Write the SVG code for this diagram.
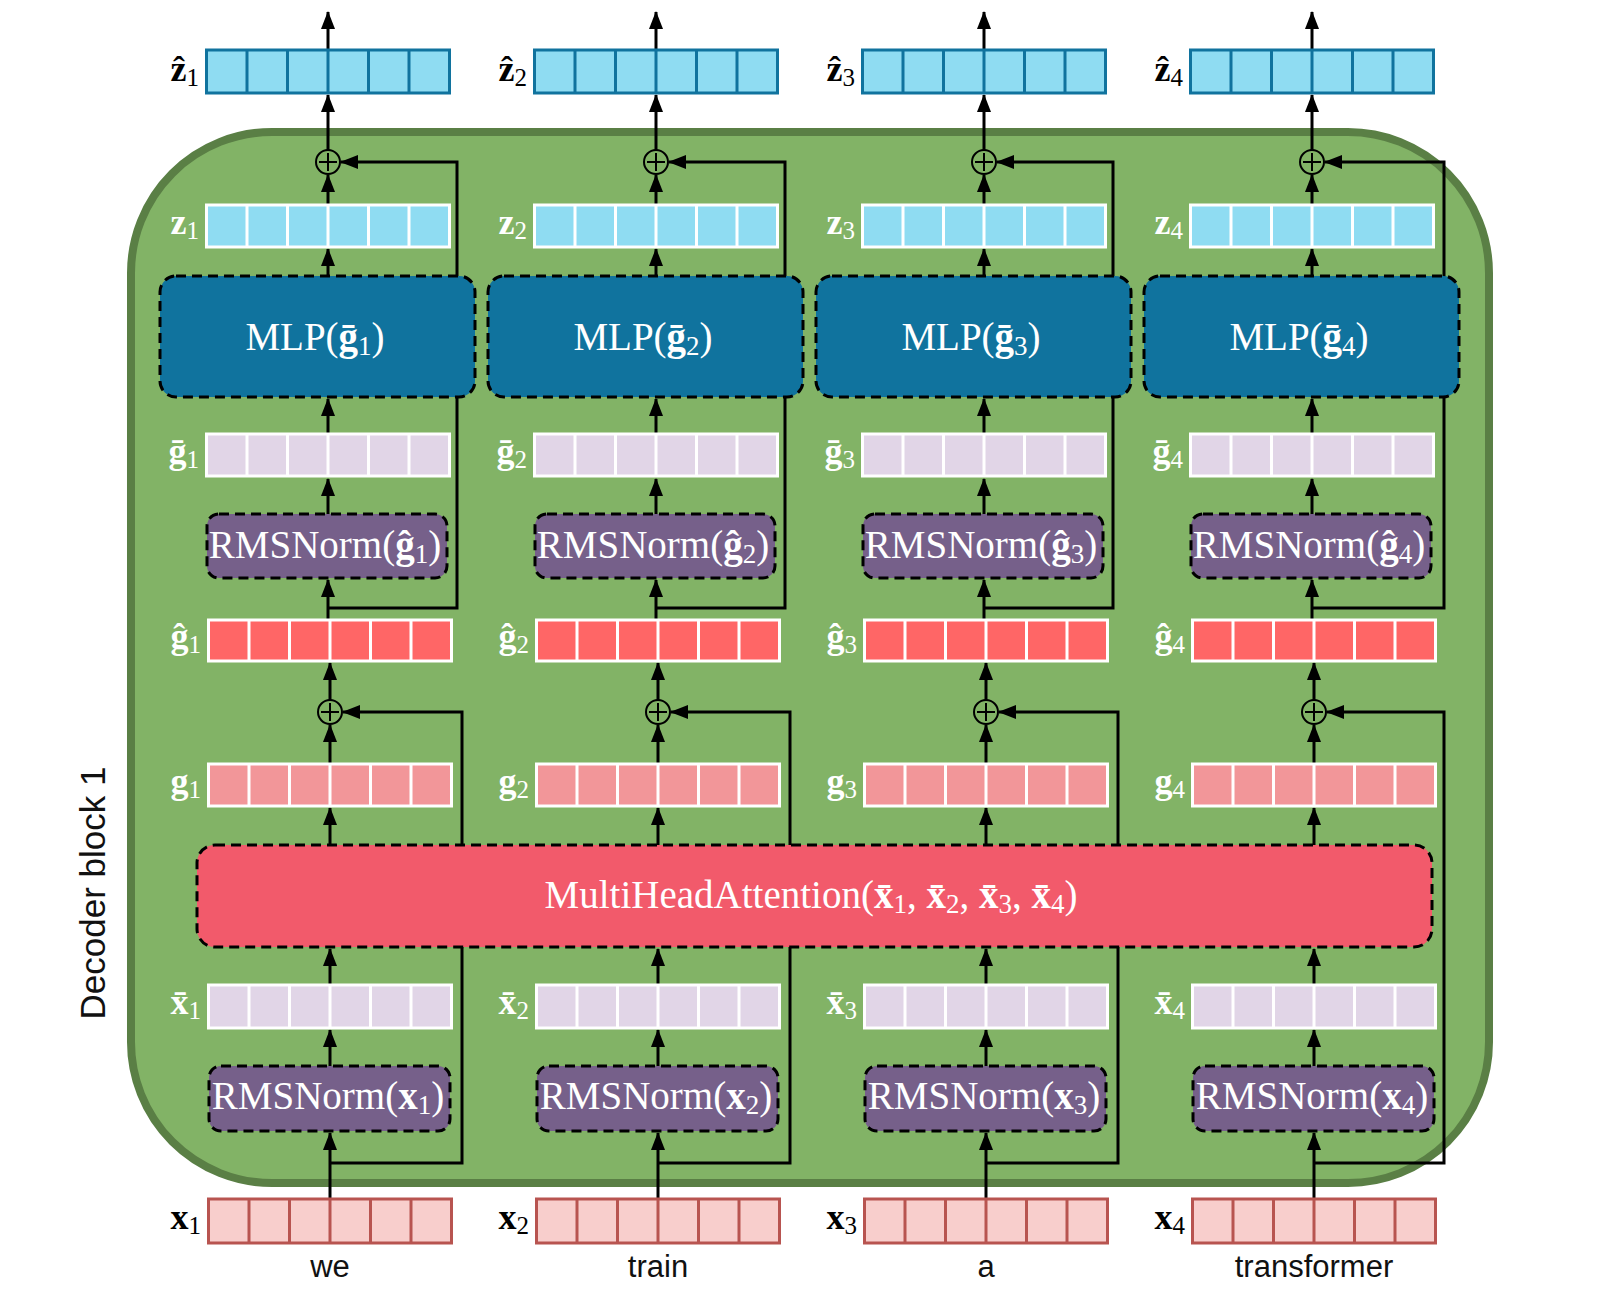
<svg xmlns="http://www.w3.org/2000/svg" width="1604" height="1296" viewBox="0 0 1604 1296">
<style>
.lbl{font-family:"Liberation Serif","DejaVu Serif",serif;font-size:36px}
.b{font-weight:bold}
.sub{font-size:25px}
.bx{font-family:"Liberation Serif","DejaVu Serif",serif;font-size:39px;fill:#fff;text-anchor:middle}
.bsub{font-size:27px}
.word{font-family:"Liberation Sans",Arial,sans-serif;font-size:31px;fill:#111;text-anchor:middle}
.wl{fill:#fff}
.zh{fill:#8FDCF2;stroke:#10739E;stroke-width:3}
.zhd{fill:none;stroke:#10739E;stroke-width:3}
.zb{fill:#8FDCF2;stroke:#fff;stroke-width:3}
.lv{fill:#E1D5E7;stroke:#fff;stroke-width:3}
.gh{fill:#FF6666;stroke:#fff;stroke-width:3}
.gp{fill:#F29699;stroke:#fff;stroke-width:3}
.xb{fill:#F8CECC;stroke:#B85450;stroke-width:3}
.xd{fill:none;stroke:#B85450;stroke-width:3}
.wd{fill:none;stroke:#fff;stroke-width:3}
.mlp{fill:#10739E;stroke:#000;stroke-width:3;stroke-dasharray:10 6}
.rms{fill:#76608A;stroke:#000;stroke-width:3;stroke-dasharray:10 6}
.att{fill:#F25A6B;stroke:#000;stroke-width:3;stroke-dasharray:10 6}
.arr{fill:none;stroke:#000;stroke-width:3;marker-end:url(#ah)}
.add{fill:none;stroke:#000;stroke-width:2}
</style>
<defs>
<marker id="ah" markerUnits="userSpaceOnUse" markerWidth="18" markerHeight="14" refX="17" refY="7" orient="auto">
<path d="M0,0 L18,7 L0,14 z" fill="#000"/>
</marker>
</defs>
<rect width="1604" height="1296" fill="#fff"/>
<g id="decoder-block">
<rect x="131" y="132" width="1358" height="1051" rx="141" fill="#82B366" stroke="#5A7F45" stroke-width="8"/>
<text x="105" y="893" transform="rotate(-90 105 893)" font-family="Liberation Sans,Arial,sans-serif" font-size="35" text-anchor="middle" fill="#111">Decoder block 1</text>
</g>
<g id="connectors">
<g transform="translate(0,0)">
<path class="arr" d="M328,50V12"/><path class="arr" d="M328,150V95"/><path class="arr" d="M328,205V175"/><path class="arr" d="M328,276V249"/><path class="arr" d="M328,434V399"/><path class="arr" d="M328,514V479"/><path class="arr" d="M328,620V580"/><path class="arr" d="M328,608H457V162H341"/>
<path class="arr" d="M330,700V663"/><path class="arr" d="M330,764V725"/><path class="arr" d="M330,845V808"/><path class="arr" d="M330,985V949"/><path class="arr" d="M330,1066V1030"/><path class="arr" d="M330,1199V1133"/><path class="arr" d="M330,1163H462V712H343"/>
</g>
<g transform="translate(328,0)">
<path class="arr" d="M328,50V12"/><path class="arr" d="M328,150V95"/><path class="arr" d="M328,205V175"/><path class="arr" d="M328,276V249"/><path class="arr" d="M328,434V399"/><path class="arr" d="M328,514V479"/><path class="arr" d="M328,620V580"/><path class="arr" d="M328,608H457V162H341"/>
<path class="arr" d="M330,700V663"/><path class="arr" d="M330,764V725"/><path class="arr" d="M330,845V808"/><path class="arr" d="M330,985V949"/><path class="arr" d="M330,1066V1030"/><path class="arr" d="M330,1199V1133"/><path class="arr" d="M330,1163H462V712H343"/>
</g>
<g transform="translate(656,0)">
<path class="arr" d="M328,50V12"/><path class="arr" d="M328,150V95"/><path class="arr" d="M328,205V175"/><path class="arr" d="M328,276V249"/><path class="arr" d="M328,434V399"/><path class="arr" d="M328,514V479"/><path class="arr" d="M328,620V580"/><path class="arr" d="M328,608H457V162H341"/>
<path class="arr" d="M330,700V663"/><path class="arr" d="M330,764V725"/><path class="arr" d="M330,845V808"/><path class="arr" d="M330,985V949"/><path class="arr" d="M330,1066V1030"/><path class="arr" d="M330,1199V1133"/><path class="arr" d="M330,1163H462V712H343"/>
</g>
<g transform="translate(984,0)">
<path class="arr" d="M328,50V12"/><path class="arr" d="M328,150V95"/><path class="arr" d="M328,205V175"/><path class="arr" d="M328,276V249"/><path class="arr" d="M328,434V399"/><path class="arr" d="M328,514V479"/><path class="arr" d="M328,620V580"/><path class="arr" d="M328,608H460V162H341"/>
<path class="arr" d="M330,700V663"/><path class="arr" d="M330,764V725"/><path class="arr" d="M330,845V808"/><path class="arr" d="M330,985V949"/><path class="arr" d="M330,1066V1030"/><path class="arr" d="M330,1199V1133"/><path class="arr" d="M330,1163H460V712H343"/>
</g>
</g>

<g id="attention">
<rect class="att" x="197" y="845" width="1235" height="102" rx="18"/>
<text class="bx" x="811" y="908" font-size="43">MultiHeadAttention(<tspan class="b">x&#x304;</tspan><tspan class="bsub" dy="5">1</tspan><tspan dy="-5">, </tspan><tspan class="b">x&#x304;</tspan><tspan class="bsub" dy="5">2</tspan><tspan dy="-5">, </tspan><tspan class="b">x&#x304;</tspan><tspan class="bsub" dy="5">3</tspan><tspan dy="-5">, </tspan><tspan class="b">x&#x304;</tspan><tspan class="bsub" dy="5">4</tspan><tspan dy="-5">)</tspan></text>
</g>

<!-- Column 1 -->
<g id="zhat-1"><rect class="zh" x="206.5" y="50" width="243" height="43"/><path class="zhd" d="M247,50v43M287.5,50v43M328,50v43M368.5,50v43M409,50v43"/><text class="lbl" x="199" y="81" text-anchor="end"><tspan class="b">ẑ</tspan><tspan class="sub" dy="5">1</tspan></text></g>
<g id="add-top-1"><circle class="add" cx="328" cy="162" r="12"/><path class="add" d="M319,162h18M328,153v18"/></g>
<g id="z-1"><rect class="zb" x="206.5" y="205" width="243" height="42"/><path class="wd" d="M247,205v42M287.5,205v42M328,205v42M368.5,205v42M409,205v42"/><text class="lbl wl" x="199" y="234" text-anchor="end"><tspan class="b">z</tspan><tspan class="sub" dy="5">1</tspan></text></g>
<g id="mlp-1"><rect class="mlp" x="160" y="276" width="315" height="121" rx="16"/><text class="bx" x="315" y="350">MLP(<tspan class="b">ḡ</tspan><tspan class="bsub" dy="5">1</tspan><tspan dy="-5">)</tspan></text></g>
<g id="gbar-1"><rect class="lv" x="206.5" y="434" width="243" height="42"/><path class="wd" d="M247,434v42M287.5,434v42M328,434v42M368.5,434v42M409,434v42"/><text class="lbl wl" x="199" y="463" text-anchor="end"><tspan class="b">ḡ</tspan><tspan class="sub" dy="5">1</tspan></text></g>
<g id="rms-g-1"><rect class="rms" x="207" y="514" width="240" height="64" rx="12"/><text class="bx" x="325" y="558">RMSNorm(<tspan class="b">ĝ</tspan><tspan class="bsub" dy="5">1</tspan><tspan dy="-5">)</tspan></text></g>
<g id="ghat-1"><rect class="gh" x="208.5" y="620" width="243" height="41"/><path class="wd" d="M249,620v41M289.5,620v41M330,620v41M370.5,620v41M411,620v41"/><text class="lbl wl" x="201" y="648" text-anchor="end"><tspan class="b">ĝ</tspan><tspan class="sub" dy="5">1</tspan></text></g>
<g id="add-mid-1"><circle class="add" cx="330" cy="712" r="12"/><path class="add" d="M321,712h18M330,703v18"/></g>
<g id="g-1"><rect class="gp" x="208.5" y="764" width="243" height="42"/><path class="wd" d="M249,764v42M289.5,764v42M330,764v42M370.5,764v42M411,764v42"/><text class="lbl wl" x="201" y="793" text-anchor="end"><tspan class="b">g</tspan><tspan class="sub" dy="5">1</tspan></text></g>
<g id="xbar-1"><rect class="lv" x="208.5" y="985" width="243" height="43"/><path class="wd" d="M249,985v43M289.5,985v43M330,985v43M370.5,985v43M411,985v43"/><text class="lbl wl" x="201" y="1014" text-anchor="end"><tspan class="b">x&#x304;</tspan><tspan class="sub" dy="5">1</tspan></text></g>
<g id="rms-x-1"><rect class="rms" x="209" y="1066" width="241" height="65" rx="12"/><text class="bx" x="328" y="1109">RMSNorm(<tspan class="b">x</tspan><tspan class="bsub" dy="5">1</tspan><tspan dy="-5">)</tspan></text></g>
<g id="x-1"><rect class="xb" x="208.5" y="1199" width="243" height="44"/><path class="xd" d="M249,1199v44M289.5,1199v44M330,1199v44M370.5,1199v44M411,1199v44"/><text class="lbl" x="201" y="1229" text-anchor="end"><tspan class="b">x</tspan><tspan class="sub" dy="5">1</tspan></text><text class="word" x="330" y="1277">we</text></g>

<!-- Column 2 -->
<g id="zhat-2" transform="translate(328,0)"><rect class="zh" x="206.5" y="50" width="243" height="43"/><path class="zhd" d="M247,50v43M287.5,50v43M328,50v43M368.5,50v43M409,50v43"/><text class="lbl" x="199" y="81" text-anchor="end"><tspan class="b">ẑ</tspan><tspan class="sub" dy="5">2</tspan></text></g>
<g id="add-top-2" transform="translate(328,0)"><circle class="add" cx="328" cy="162" r="12"/><path class="add" d="M319,162h18M328,153v18"/></g>
<g id="z-2" transform="translate(328,0)"><rect class="zb" x="206.5" y="205" width="243" height="42"/><path class="wd" d="M247,205v42M287.5,205v42M328,205v42M368.5,205v42M409,205v42"/><text class="lbl wl" x="199" y="234" text-anchor="end"><tspan class="b">z</tspan><tspan class="sub" dy="5">2</tspan></text></g>
<g id="mlp-2" transform="translate(328,0)"><rect class="mlp" x="160" y="276" width="315" height="121" rx="16"/><text class="bx" x="315" y="350">MLP(<tspan class="b">ḡ</tspan><tspan class="bsub" dy="5">2</tspan><tspan dy="-5">)</tspan></text></g>
<g id="gbar-2" transform="translate(328,0)"><rect class="lv" x="206.5" y="434" width="243" height="42"/><path class="wd" d="M247,434v42M287.5,434v42M328,434v42M368.5,434v42M409,434v42"/><text class="lbl wl" x="199" y="463" text-anchor="end"><tspan class="b">ḡ</tspan><tspan class="sub" dy="5">2</tspan></text></g>
<g id="rms-g-2" transform="translate(328,0)"><rect class="rms" x="207" y="514" width="240" height="64" rx="12"/><text class="bx" x="325" y="558">RMSNorm(<tspan class="b">ĝ</tspan><tspan class="bsub" dy="5">2</tspan><tspan dy="-5">)</tspan></text></g>
<g id="ghat-2" transform="translate(328,0)"><rect class="gh" x="208.5" y="620" width="243" height="41"/><path class="wd" d="M249,620v41M289.5,620v41M330,620v41M370.5,620v41M411,620v41"/><text class="lbl wl" x="201" y="648" text-anchor="end"><tspan class="b">ĝ</tspan><tspan class="sub" dy="5">2</tspan></text></g>
<g id="add-mid-2" transform="translate(328,0)"><circle class="add" cx="330" cy="712" r="12"/><path class="add" d="M321,712h18M330,703v18"/></g>
<g id="g-2" transform="translate(328,0)"><rect class="gp" x="208.5" y="764" width="243" height="42"/><path class="wd" d="M249,764v42M289.5,764v42M330,764v42M370.5,764v42M411,764v42"/><text class="lbl wl" x="201" y="793" text-anchor="end"><tspan class="b">g</tspan><tspan class="sub" dy="5">2</tspan></text></g>
<g id="xbar-2" transform="translate(328,0)"><rect class="lv" x="208.5" y="985" width="243" height="43"/><path class="wd" d="M249,985v43M289.5,985v43M330,985v43M370.5,985v43M411,985v43"/><text class="lbl wl" x="201" y="1014" text-anchor="end"><tspan class="b">x&#x304;</tspan><tspan class="sub" dy="5">2</tspan></text></g>
<g id="rms-x-2" transform="translate(328,0)"><rect class="rms" x="209" y="1066" width="241" height="65" rx="12"/><text class="bx" x="328" y="1109">RMSNorm(<tspan class="b">x</tspan><tspan class="bsub" dy="5">2</tspan><tspan dy="-5">)</tspan></text></g>
<g id="x-2" transform="translate(328,0)"><rect class="xb" x="208.5" y="1199" width="243" height="44"/><path class="xd" d="M249,1199v44M289.5,1199v44M330,1199v44M370.5,1199v44M411,1199v44"/><text class="lbl" x="201" y="1229" text-anchor="end"><tspan class="b">x</tspan><tspan class="sub" dy="5">2</tspan></text><text class="word" x="330" y="1277">train</text></g>

<!-- Column 3 -->
<g id="zhat-3" transform="translate(656,0)"><rect class="zh" x="206.5" y="50" width="243" height="43"/><path class="zhd" d="M247,50v43M287.5,50v43M328,50v43M368.5,50v43M409,50v43"/><text class="lbl" x="199" y="81" text-anchor="end"><tspan class="b">ẑ</tspan><tspan class="sub" dy="5">3</tspan></text></g>
<g id="add-top-3" transform="translate(656,0)"><circle class="add" cx="328" cy="162" r="12"/><path class="add" d="M319,162h18M328,153v18"/></g>
<g id="z-3" transform="translate(656,0)"><rect class="zb" x="206.5" y="205" width="243" height="42"/><path class="wd" d="M247,205v42M287.5,205v42M328,205v42M368.5,205v42M409,205v42"/><text class="lbl wl" x="199" y="234" text-anchor="end"><tspan class="b">z</tspan><tspan class="sub" dy="5">3</tspan></text></g>
<g id="mlp-3" transform="translate(656,0)"><rect class="mlp" x="160" y="276" width="315" height="121" rx="16"/><text class="bx" x="315" y="350">MLP(<tspan class="b">ḡ</tspan><tspan class="bsub" dy="5">3</tspan><tspan dy="-5">)</tspan></text></g>
<g id="gbar-3" transform="translate(656,0)"><rect class="lv" x="206.5" y="434" width="243" height="42"/><path class="wd" d="M247,434v42M287.5,434v42M328,434v42M368.5,434v42M409,434v42"/><text class="lbl wl" x="199" y="463" text-anchor="end"><tspan class="b">ḡ</tspan><tspan class="sub" dy="5">3</tspan></text></g>
<g id="rms-g-3" transform="translate(656,0)"><rect class="rms" x="207" y="514" width="240" height="64" rx="12"/><text class="bx" x="325" y="558">RMSNorm(<tspan class="b">ĝ</tspan><tspan class="bsub" dy="5">3</tspan><tspan dy="-5">)</tspan></text></g>
<g id="ghat-3" transform="translate(656,0)"><rect class="gh" x="208.5" y="620" width="243" height="41"/><path class="wd" d="M249,620v41M289.5,620v41M330,620v41M370.5,620v41M411,620v41"/><text class="lbl wl" x="201" y="648" text-anchor="end"><tspan class="b">ĝ</tspan><tspan class="sub" dy="5">3</tspan></text></g>
<g id="add-mid-3" transform="translate(656,0)"><circle class="add" cx="330" cy="712" r="12"/><path class="add" d="M321,712h18M330,703v18"/></g>
<g id="g-3" transform="translate(656,0)"><rect class="gp" x="208.5" y="764" width="243" height="42"/><path class="wd" d="M249,764v42M289.5,764v42M330,764v42M370.5,764v42M411,764v42"/><text class="lbl wl" x="201" y="793" text-anchor="end"><tspan class="b">g</tspan><tspan class="sub" dy="5">3</tspan></text></g>
<g id="xbar-3" transform="translate(656,0)"><rect class="lv" x="208.5" y="985" width="243" height="43"/><path class="wd" d="M249,985v43M289.5,985v43M330,985v43M370.5,985v43M411,985v43"/><text class="lbl wl" x="201" y="1014" text-anchor="end"><tspan class="b">x&#x304;</tspan><tspan class="sub" dy="5">3</tspan></text></g>
<g id="rms-x-3" transform="translate(656,0)"><rect class="rms" x="209" y="1066" width="241" height="65" rx="12"/><text class="bx" x="328" y="1109">RMSNorm(<tspan class="b">x</tspan><tspan class="bsub" dy="5">3</tspan><tspan dy="-5">)</tspan></text></g>
<g id="x-3" transform="translate(656,0)"><rect class="xb" x="208.5" y="1199" width="243" height="44"/><path class="xd" d="M249,1199v44M289.5,1199v44M330,1199v44M370.5,1199v44M411,1199v44"/><text class="lbl" x="201" y="1229" text-anchor="end"><tspan class="b">x</tspan><tspan class="sub" dy="5">3</tspan></text><text class="word" x="330" y="1277">a</text></g>

<!-- Column 4 -->
<g id="zhat-4" transform="translate(984,0)"><rect class="zh" x="206.5" y="50" width="243" height="43"/><path class="zhd" d="M247,50v43M287.5,50v43M328,50v43M368.5,50v43M409,50v43"/><text class="lbl" x="199" y="81" text-anchor="end"><tspan class="b">ẑ</tspan><tspan class="sub" dy="5">4</tspan></text></g>
<g id="add-top-4" transform="translate(984,0)"><circle class="add" cx="328" cy="162" r="12"/><path class="add" d="M319,162h18M328,153v18"/></g>
<g id="z-4" transform="translate(984,0)"><rect class="zb" x="206.5" y="205" width="243" height="42"/><path class="wd" d="M247,205v42M287.5,205v42M328,205v42M368.5,205v42M409,205v42"/><text class="lbl wl" x="199" y="234" text-anchor="end"><tspan class="b">z</tspan><tspan class="sub" dy="5">4</tspan></text></g>
<g id="mlp-4" transform="translate(984,0)"><rect class="mlp" x="160" y="276" width="315" height="121" rx="16"/><text class="bx" x="315" y="350">MLP(<tspan class="b">ḡ</tspan><tspan class="bsub" dy="5">4</tspan><tspan dy="-5">)</tspan></text></g>
<g id="gbar-4" transform="translate(984,0)"><rect class="lv" x="206.5" y="434" width="243" height="42"/><path class="wd" d="M247,434v42M287.5,434v42M328,434v42M368.5,434v42M409,434v42"/><text class="lbl wl" x="199" y="463" text-anchor="end"><tspan class="b">ḡ</tspan><tspan class="sub" dy="5">4</tspan></text></g>
<g id="rms-g-4" transform="translate(984,0)"><rect class="rms" x="207" y="514" width="240" height="64" rx="12"/><text class="bx" x="325" y="558">RMSNorm(<tspan class="b">ĝ</tspan><tspan class="bsub" dy="5">4</tspan><tspan dy="-5">)</tspan></text></g>
<g id="ghat-4" transform="translate(984,0)"><rect class="gh" x="208.5" y="620" width="243" height="41"/><path class="wd" d="M249,620v41M289.5,620v41M330,620v41M370.5,620v41M411,620v41"/><text class="lbl wl" x="201" y="648" text-anchor="end"><tspan class="b">ĝ</tspan><tspan class="sub" dy="5">4</tspan></text></g>
<g id="add-mid-4" transform="translate(984,0)"><circle class="add" cx="330" cy="712" r="12"/><path class="add" d="M321,712h18M330,703v18"/></g>
<g id="g-4" transform="translate(984,0)"><rect class="gp" x="208.5" y="764" width="243" height="42"/><path class="wd" d="M249,764v42M289.5,764v42M330,764v42M370.5,764v42M411,764v42"/><text class="lbl wl" x="201" y="793" text-anchor="end"><tspan class="b">g</tspan><tspan class="sub" dy="5">4</tspan></text></g>
<g id="xbar-4" transform="translate(984,0)"><rect class="lv" x="208.5" y="985" width="243" height="43"/><path class="wd" d="M249,985v43M289.5,985v43M330,985v43M370.5,985v43M411,985v43"/><text class="lbl wl" x="201" y="1014" text-anchor="end"><tspan class="b">x&#x304;</tspan><tspan class="sub" dy="5">4</tspan></text></g>
<g id="rms-x-4" transform="translate(984,0)"><rect class="rms" x="209" y="1066" width="241" height="65" rx="12"/><text class="bx" x="328" y="1109">RMSNorm(<tspan class="b">x</tspan><tspan class="bsub" dy="5">4</tspan><tspan dy="-5">)</tspan></text></g>
<g id="x-4" transform="translate(984,0)"><rect class="xb" x="208.5" y="1199" width="243" height="44"/><path class="xd" d="M249,1199v44M289.5,1199v44M330,1199v44M370.5,1199v44M411,1199v44"/><text class="lbl" x="201" y="1229" text-anchor="end"><tspan class="b">x</tspan><tspan class="sub" dy="5">4</tspan></text><text class="word" x="330" y="1277">transformer</text></g>
</svg>
